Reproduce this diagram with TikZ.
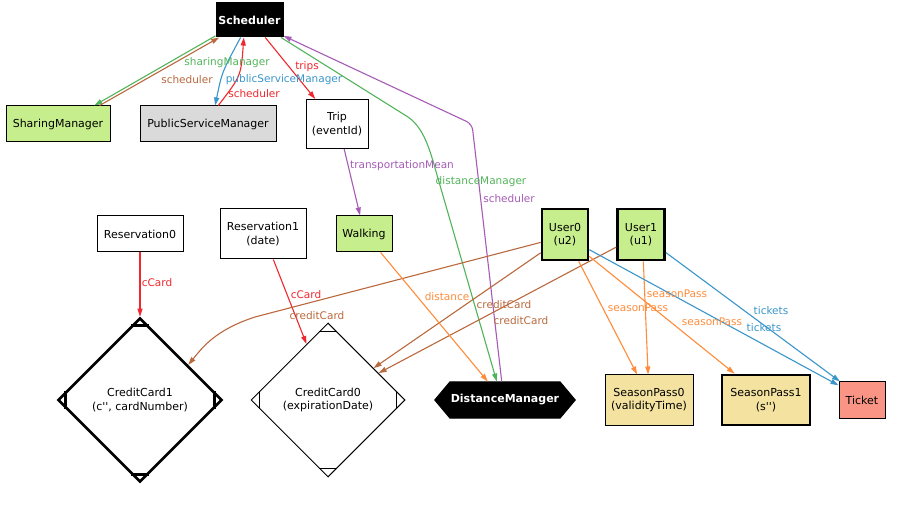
\documentclass[tikz,border=0pt]{standalone}
\usepackage{fontspec}
\setmainfont{DejaVu Sans}
\usetikzlibrary{shapes.geometric,shapes.symbols,arrows.meta,calc}
\definecolor{lgreen}{HTML}{C6EE8C}
\definecolor{lgray}{HTML}{DADADA}
\definecolor{ltan}{HTML}{F3E2A0}
\definecolor{lsalmon}{HTML}{FA9585}
\definecolor{egreen}{HTML}{52B45A}
\definecolor{ebrown}{HTML}{B9693D}
\definecolor{eblue}{HTML}{3A96CA}
\definecolor{ered}{HTML}{F0282E}
\definecolor{epurple}{HTML}{A65CB6}
\definecolor{eorange}{HTML}{FF8C3A}
\tikzset{
  box/.style={draw,rectangle,inner sep=1pt,align=center,line width=1pt,
    font=\fontsize{11}{13.5}\selectfont},
  thickbox/.style={box,line width=2.6pt},
  darkbox/.style={box,fill=black,text=white,
    font=\fontsize{11}{13.5}\selectfont\bfseries},
  lbl/.style={inner sep=0pt,font=\fontsize{10.5}{12}\selectfont},
  link/.style={line width=1.1pt,-{Triangle[length=8pt,width=5pt]}},
}
\begin{document}
\begin{tikzpicture}[x=1pt,y=-1pt]
  \useasboundingbox[fill=white] (0,0) rectangle (898,513);

  %nodes
  \node[darkbox,minimum width=67,minimum height=34] (sched) at (249.5,20) {Scheduler};
  \node[box,fill=lgreen,minimum width=104,minimum height=36] (share) at (58,124) {SharingManager};
  \node[box,fill=lgray,minimum width=136,minimum height=36] (psm) at (208,124) {PublicServiceManager};
  \node[box,fill=white,minimum width=62,minimum height=49] (trip) at (337,124) {Trip\\(eventId)};
  \node[box,fill=white,minimum width=86,minimum height=36] (res0) at (140,234) {Reservation0};
  \node[box,fill=white,minimum width=86,minimum height=50] (res1) at (263,234) {Reservation1\\(date)};
  \node[box,fill=lgreen,minimum width=56,minimum height=36] (walk) at (364,234) {Walking};
  \node[thickbox,fill=lgreen,minimum width=46,minimum height=51] (user0) at (565,234.5) {User0\\(u2)};
  \node[thickbox,fill=lgreen,minimum width=47,minimum height=51] (user1) at (641,234.5) {User1\\(u1)};
  \node[box,diamond,aspect=1,inner sep=0pt,line width=2.6pt,fill=white,
    minimum width=164,minimum height=164] (cc1) at (140,400)
    {CreditCard1\\(c\textquotesingle\textquotesingle, cardNumber)};
  \node[box,diamond,aspect=1,inner sep=0pt,fill=white,
    minimum width=154,minimum height=154] (cc0) at (328,400)
    {CreditCard0\\(expirationDate)};
  \node[darkbox,signal,signal to=west and east,signal pointer angle=100,
    minimum width=140,minimum height=36] (dm) at (505,400) {DistanceManager};
  \node[box,fill=ltan,minimum width=88,minimum height=50] (sp0) at (649,400) {SeasonPass0\\(validityTime)};
  \node[thickbox,fill=ltan,minimum width=88,minimum height=50] (sp1) at (766,400) {SeasonPass1\\(s\textquotesingle\textquotesingle)};
  \node[box,fill=lsalmon,minimum width=46,minimum height=36] (ticket) at (862,400) {Ticket};

  %diamond corner marks
  \foreach \n/\w in {cc1/2.6pt,cc0/1pt}{
    \draw[line width=\w] ($(\n.north)+(-9,9)$) -- ($(\n.north)+(9,9)$);
    \draw[line width=\w] ($(\n.south)+(-9,-9)$) -- ($(\n.south)+(9,-9)$);
    \draw[line width=\w] ($(\n.east)+(-9,-9)$) -- ($(\n.east)+(-9,9)$);
    \draw[line width=\w] ($(\n.west)+(9,-9)$) -- ($(\n.west)+(9,9)$);
  }

  %links from Scheduler
  \draw[link,egreen] (sched.205) -- (share.27);
  \draw[link,ebrown] (share.24) -- (sched.210);
  \draw[link,eblue] (sched.243) .. controls (222,72) .. (psm.69);
  \draw[link,ered] (psm.61) .. controls (241,76) .. (sched.252);
  \draw[link,ered] (sched.312) -- (trip.131);
  \draw[link,egreen] (sched.331) -- (408,117) .. controls (424,128) and (430,150) .. (437,175) -- (dm.114);
  \draw[link,epurple,rounded corners=6pt] (dm.100) -- (472,124) -- (sched.335);

  %links to credit cards
  \draw[link,ered] (res0) -- (cc1);
  \draw[link,ered] (res1.292) -- (cc0.111);
  \draw[link,ebrown] (user0.198) -- (255,317) .. controls (215,330) and (202,348) .. (cc1.36);
  \draw[link,ebrown] (user0.217) -- (cc0.35);
  \draw[link,ebrown] (user1.207) -- (cc0.28);

  %other links
  \draw[link,epurple] (trip.286) -- (walk.102);
  \draw[link,eorange] (walk.312) -- (dm.133);
  \draw[link,eorange] (user0.297) -- (sp0.115);
  \draw[link,eorange] (user1.275) -- (sp0.92);
  \draw[link,eorange] (user0.318) -- (sp1.140);
  \draw[link,eblue] (user0.328) -- (ticket.148);
  \draw[link,eblue] (user1.324) -- (ticket.140);

  %labels
  \node[lbl,text=egreen] (l1) at (227,63) {sharingManager};
  \node[lbl,text=ebrown] (l2) at (187,80) {scheduler};
  \node[lbl,text=eblue] (l3) at (284,80) {publicServiceManager};
  \node[lbl,text=ered] (l4) at (254,94) {scheduler};
  \node[lbl,text=ered] (l5) at (307,67) {trips};
  \node[lbl,text=epurple] (l6) at (402,166) {transportationMean};
  \node[lbl,text=egreen] (l7) at (481,182) {distanceManager};
  \node[lbl,text=epurple] (l8) at (509,199) {scheduler};
  \node[lbl,text=ered] (l9) at (157,283) {cCard};
  \node[lbl,text=ered] (l10) at (306,295) {cCard};
  \node[lbl,text=ebrown] (l11) at (317,316) {creditCard};
  \node[lbl,text=eorange] (l12) at (447,297) {distance};
  \node[lbl,text=ebrown] (l13) at (504,305) {creditCard};
  \node[lbl,text=ebrown] (l14) at (521,321) {creditCard};
  \node[lbl,text=eorange] (l15) at (677,294) {seasonPass};
  \node[lbl,text=eorange] (l16) at (638,308) {seasonPass};
  \node[lbl,text=eorange] (l17) at (712,322) {seasonPass};
  \node[lbl,text=eblue] (l18) at (771,311) {tickets};
  \node[lbl,text=eblue] (l19) at (764,328) {tickets};
\end{tikzpicture}
\end{document}
